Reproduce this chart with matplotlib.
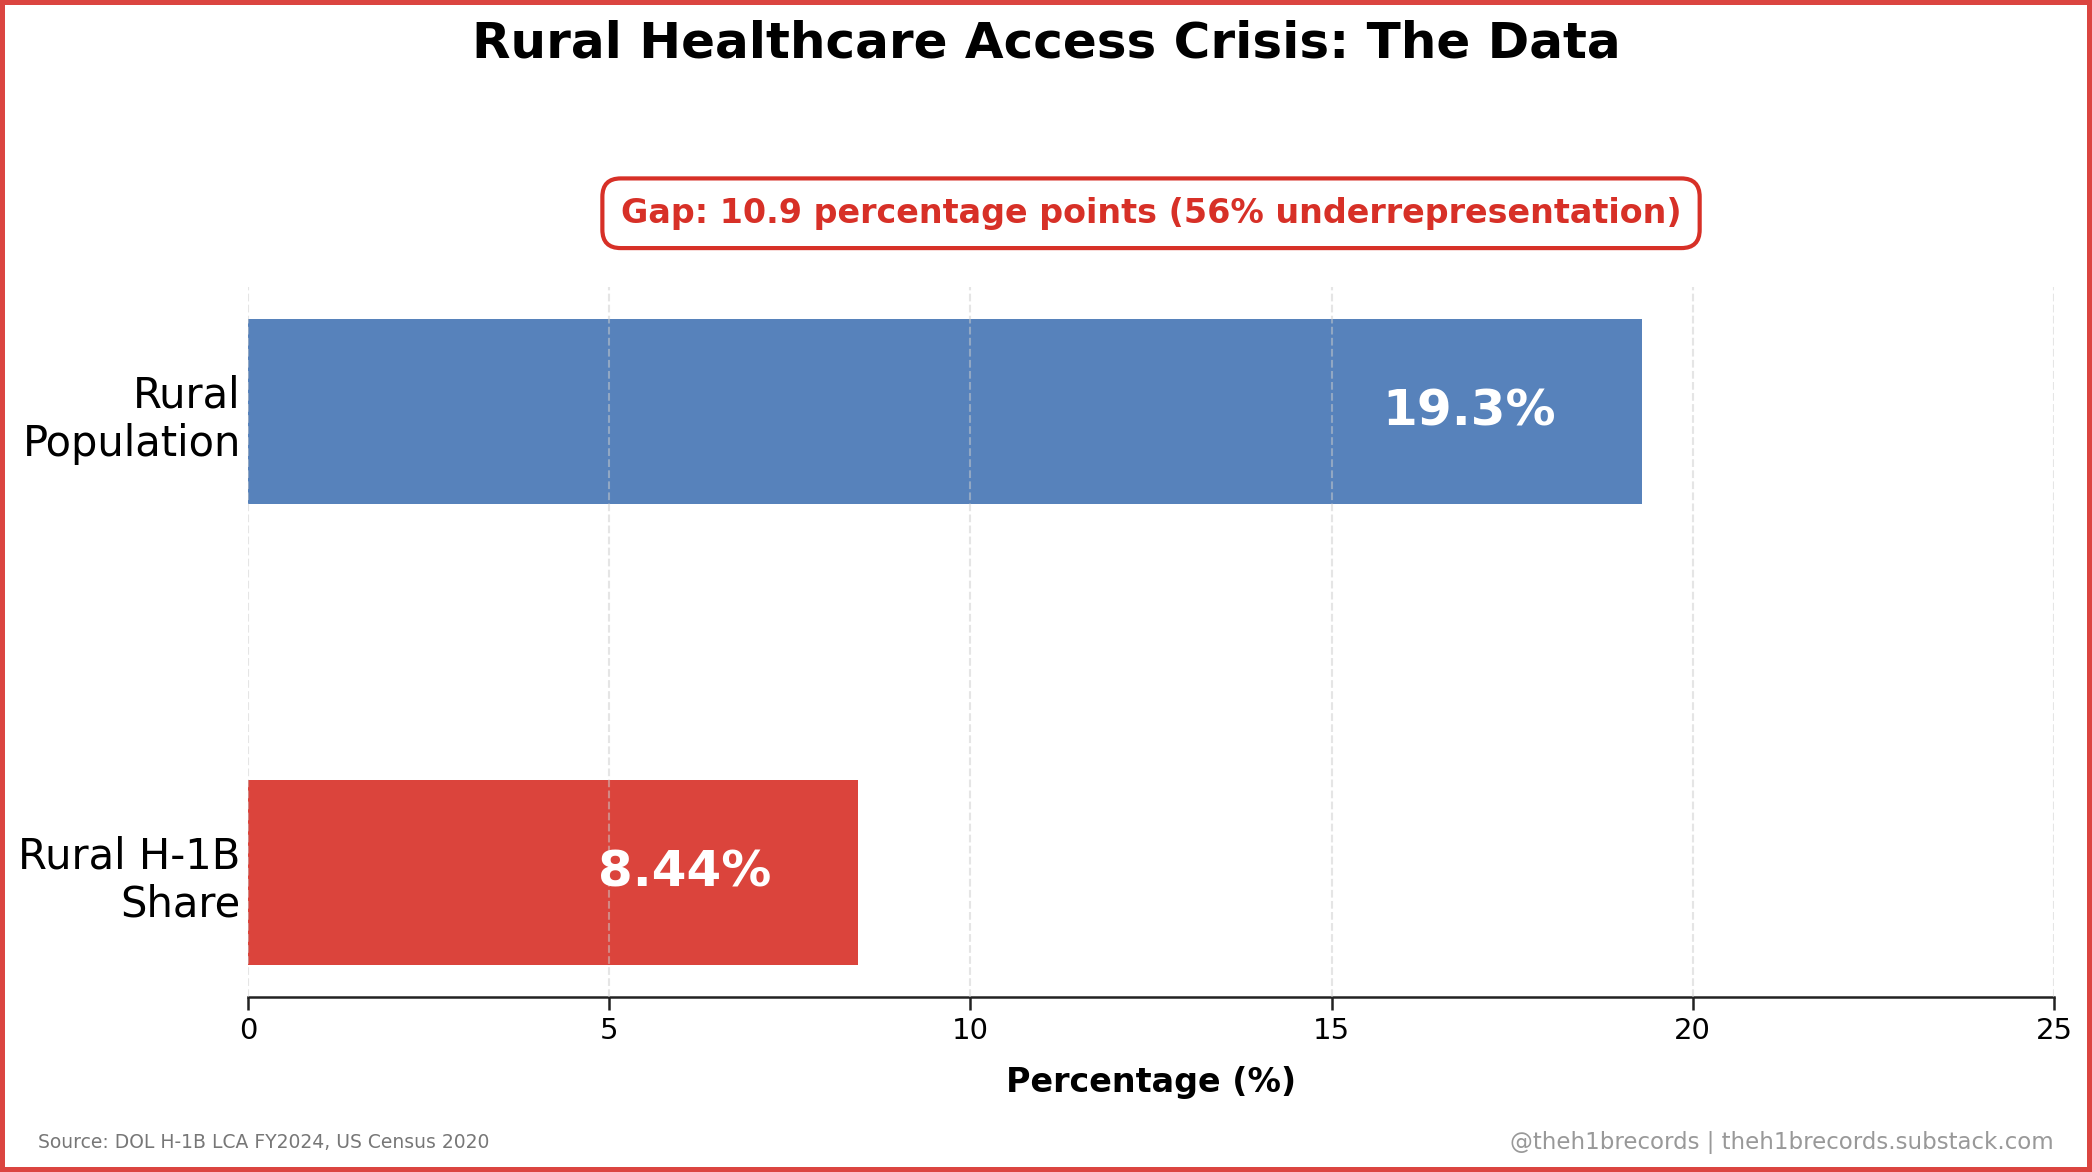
#!/usr/bin/env python3
"""Rural healthcare access: rural H-1B share vs rural population share."""

import matplotlib

matplotlib.use("Agg")
import matplotlib.pyplot as plt

categories = ["Rural H-1B\nShare", "Rural\nPopulation"]
values = [8.44, 19.3]
value_labels = ["8.44%", "19.3%"]
bar_colors = ["#d73027", "#4575b4"]
x_ticks = [0, 5, 10, 15, 20, 25]
gap_text = "Gap: 10.9 percentage points (56% underrepresentation)"

RED = "#d73027"

fig = plt.figure(figsize=(2092 / 150, 1172 / 150), dpi=150)
fig.patch.set_facecolor("white")
fig.patch.set_edgecolor("#db4540")
fig.patch.set_linewidth(4)

ax = fig.add_axes([0.1186, 0.1493, 0.8632, 0.6058])
positions = list(range(len(categories)))
ax.barh(positions, values, height=0.4, color=bar_colors, alpha=0.9, zorder=2)

for pos, val, label in zip(positions, values, value_labels):
    ax.text(val - 1.2, pos, label, ha="right", va="center", color="white",
            fontsize=24, fontweight="bold", zorder=4)

ax.text(12.5, 1.43, gap_text, ha="center", va="center", color=RED,
        fontsize=16, fontweight="bold", zorder=5,
        bbox=dict(boxstyle="round,pad=0.55", facecolor="white", edgecolor=RED, linewidth=2))

ax.set_xlim(0, 25)
ax.set_xticks(x_ticks)
ax.set_yticks(positions)
ax.set_yticklabels(categories, fontsize=20)
ax.tick_params(axis="y", length=0, pad=3.5)
ax.tick_params(axis="x", labelsize=14, length=6, width=1.2, color="#222222")
ax.set_xlabel("Percentage (%)", fontsize=16, fontweight="bold", labelpad=10)

for side in ("top", "right", "left"):
    ax.spines[side].set_visible(False)
ax.spines["bottom"].set_color("#222222")
ax.spines["bottom"].set_linewidth(1.2)

ax.grid(axis="x", linestyle="--", color="#cccccc", alpha=0.5, linewidth=1, zorder=3)
ax.set_axisbelow(False)

fig.suptitle("Rural Healthcare Access Crisis: The Data", fontsize=24, fontweight="bold", y=0.963, va="center")
fig.text(0.018, 0.025, "Source: DOL H-1B LCA FY2024, US Census 2020", fontsize=9, color="#777777", va="center")
fig.text(0.9818, 0.025, "@theh1brecords | theh1brecords.substack.com", fontsize=11, color="#999999",
         ha="right", va="center")

fig.savefig("out.png", dpi=150, facecolor=fig.get_facecolor(), edgecolor=fig.get_edgecolor())
